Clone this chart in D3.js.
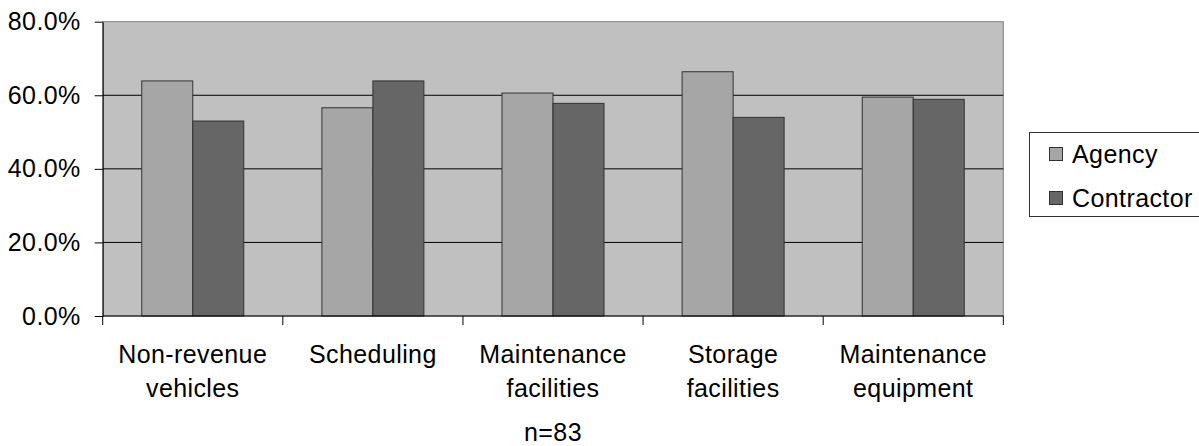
<!DOCTYPE html>
<html>
<head>
<meta charset="utf-8">
<script src="https://cdn.jsdelivr.net/npm/d3@7"></script>
<style>
  html, body { margin: 0; padding: 0; background: #fff; }
  svg { display: block; font-family: "Liberation Sans", Arial, Helvetica, sans-serif; }
  svg text { letter-spacing: 0.4px; }
</style>
</head>
<body>
<svg id="chart" width="1199" height="446"></svg>
<script>
// Share of respondents by function, agency vs. contractor
const categories = [
  ["Non-revenue", "vehicles"],
  ["Scheduling"],
  ["Maintenance", "facilities"],
  ["Storage", "facilities"],
  ["Maintenance", "equipment"]
];
const seriesNames = ["Agency", "Contractor"];
const agencyValues = [0.639, 0.566, 0.606, 0.664, 0.595];
const contractorValues = [0.530, 0.639, 0.578, 0.540, 0.589];
const yTicks = [0, 0.2, 0.4, 0.6, 0.8];
const footnote = "n=83";

const colors = { Agency: "#a6a6a6", Contractor: "#666666" };

const svg = d3.select("#chart");
const plot = { left: 102.7, right: 1003.3, top: 21.7, bottom: 316 };

const catKeys = categories.map(c => c.join(" "));
const rows = catKeys.map((k, i) => ({
  key: k,
  lines: categories[i],
  values: [
    { series: "Agency", value: agencyValues[i] },
    { series: "Contractor", value: contractorValues[i] }
  ]
}));

const x0 = d3.scaleBand().domain(catKeys).range([plot.left, plot.right]).padding(0);
const groupPad = (x0.bandwidth() - 102) / 2;
const x1 = d3.scaleBand().domain(seriesNames).range([groupPad, groupPad + 102]).padding(0);
const y = d3.scaleLinear().domain([0, 0.8]).range([plot.bottom, plot.top]);

// plot background
svg.append("rect")
  .attr("x", plot.left).attr("y", plot.top)
  .attr("width", plot.right - plot.left).attr("height", plot.bottom - plot.top)
  .attr("fill", "#c0c0c0")
  .attr("stroke", "#808080").attr("stroke-width", 1);

// horizontal gridlines
svg.append("g")
  .selectAll("line")
  .data(yTicks.filter(t => t > 0 && t < 0.8))
  .join("line")
  .attr("x1", plot.left).attr("x2", plot.right)
  .attr("y1", d => y(d)).attr("y2", d => y(d))
  .attr("stroke", "#000").attr("stroke-width", 1);

// bars
const groups = svg.append("g")
  .selectAll("g")
  .data(rows)
  .join("g")
  .attr("transform", d => `translate(${x0(d.key)},0)`);

groups.selectAll("rect")
  .data(d => d.values)
  .join("rect")
  .attr("x", d => x1(d.series))
  .attr("y", d => y(d.value))
  .attr("width", x1.bandwidth())
  .attr("height", d => y(0) - y(d.value))
  .attr("fill", d => colors[d.series])
  .attr("stroke", "#333")
  .attr("stroke-width", 1);

// y axis
const yAxis = d3.axisLeft(y)
  .tickValues(yTicks)
  .tickFormat(d3.format(".1%"))
  .tickSizeInner(8)
  .tickSizeOuter(0)
  .tickPadding(14);
const gy = svg.append("g")
  .attr("transform", `translate(${plot.left},0)`)
  .call(yAxis);
gy.select(".domain").attr("stroke", "#000");
gy.selectAll(".tick line").attr("stroke", "#000");
gy.selectAll(".tick text")
  .attr("font-size", 25)
  .attr("fill", "#000")
  .attr("font-family", "'Liberation Sans', Arial, sans-serif");

// x axis: ticks at band boundaries
const boundaries = catKeys.map(k => x0(k)).concat([plot.right]);
const gx = svg.append("g");
gx.append("line")
  .attr("x1", plot.left).attr("x2", plot.right)
  .attr("y1", plot.bottom).attr("y2", plot.bottom)
  .attr("stroke", "#000");
gx.selectAll("line.tick")
  .data(boundaries)
  .join("line")
  .attr("class", "tick")
  .attr("x1", d => d).attr("x2", d => d)
  .attr("y1", plot.bottom).attr("y2", plot.bottom + 9)
  .attr("stroke", "#000");

// category labels
const labels = svg.append("g")
  .selectAll("text")
  .data(rows)
  .join("text")
  .attr("text-anchor", "middle")
  .attr("font-size", 25)
  .attr("fill", "#000")
  .attr("x", d => x0(d.key) + x0.bandwidth() / 2)
  .attr("y", 363);
labels.selectAll("tspan")
  .data(d => d.lines.map((t, i) => ({ t, i, cx: x0(d.key) + x0.bandwidth() / 2 })))
  .join("tspan")
  .attr("x", d => d.cx)
  .attr("dy", d => d.i === 0 ? 0 : 34)
  .text(d => d.t);

// sample size note
svg.append("text")
  .attr("x", (plot.left + plot.right) / 2)
  .attr("y", 440.5)
  .attr("text-anchor", "middle")
  .attr("font-size", 25)
  .attr("fill", "#000")
  .text(footnote);

// legend
const legend = svg.append("g");
legend.append("rect")
  .attr("x", 1029.5).attr("y", 132.5)
  .attr("width", 180).attr("height", 84)
  .attr("fill", "#fff")
  .attr("stroke", "#333").attr("stroke-width", 1);
const items = legend.selectAll("g.item")
  .data(seriesNames)
  .join("g")
  .attr("class", "item")
  .attr("transform", (d, i) => `translate(0,${i * 44})`);
items.append("rect")
  .attr("x", 1049.5).attr("y", 147.5)
  .attr("width", 13).attr("height", 13)
  .attr("fill", d => colors[d])
  .attr("stroke", "#333");
items.append("text")
  .attr("x", 1072)
  .attr("y", 162.5)
  .attr("font-size", 25)
  .attr("fill", "#000")
  .text(d => d);
</script>
</body>
</html>
